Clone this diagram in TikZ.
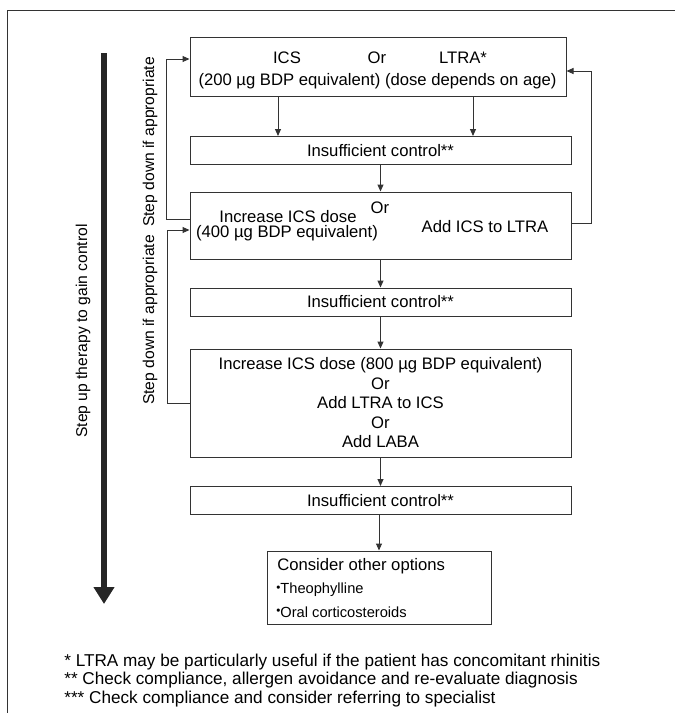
\documentclass[tikz,border=0pt]{standalone}
\usepackage{fontspec}
\setmainfont{Liberation Sans}
\usepackage{tikz}
\usetikzlibrary{arrows.meta}
\newcommand{\dotmark}{\raisebox{0.35ex}{\fontsize{7}{7}\selectfont\textbullet}}

\begin{document}
\begin{tikzpicture}[x=0.6pt, y=-0.6pt, font=\fontsize{10}{11.7}\selectfont,
  box/.style={draw=black!80, line width=0.6pt, inner sep=0pt, minimum width=228.6pt, minimum height=16.8pt},
  txt/.style={inner sep=0pt},
  side/.style={inner sep=0pt, rotate=90, font=\fontsize{9.4}{11}\selectfont},
  arr/.style={draw=black!80, line width=0.6pt, -{Triangle[length=4.2pt, width=3.6pt]}}]
  \useasboundingbox (0,0) rectangle (675,713);
  \draw[black!80, line width=0.6pt] (7,713) |- (675,10);
  % first step
  \node[box, minimum width=225.6pt, minimum height=35.4pt] (top) at (378,66.5) {};
  \node[txt] (ics) at (287,58) {ICS}; \node[txt] (or1) at (377,58) {Or}; \node[txt] (ltra) at (463,58) {LTRA*};
  \node[txt] (dose1) at (377.5,81) {(200 µg BDP equivalent) (dose depends on age)};
  \node[box] (ins1) at (380.5,150.5) {Insufficient control**};
  % second step
  \node[box, minimum height=40.2pt] (mid) at (380.5,225.5) {};
  \node[txt] (inc1) at (288,217) {Increase ICS dose}; \node[txt] (dose2) at (287,233) {(400 µg BDP equivalent)};
  \node[txt] (or2) at (380,208) {Or}; \node[txt] (addics) at (485,227) {Add ICS to LTRA};
  \node[box] (ins2) at (380.5,302) {Insufficient control**};
  % third step
  \node[box, minimum height=64.8pt, align=center] (big) at (380.5,403) {Increase ICS dose (800 µg BDP equivalent)\\Or\\Add LTRA to ICS\\Or\\Add LABA};
  \node[box] (ins3) at (380.5,500.5) {Insufficient control**};
  \node[box, minimum width=134.4pt, minimum height=43.8pt] (other) at (379,587.5) {};
  \node[txt, anchor=west] (cons) at (277,566) {Consider other options};
  \node[txt, anchor=west, font=\fontsize{8.8}{10}\selectfont] (theo) at (276,590) {\dotmark Theophylline};
  \node[txt, anchor=west, font=\fontsize{8.8}{10}\selectfont] (oral) at (276,612) {\dotmark Oral corticosteroids};
  % connectors
  \draw[arr] ([xshift=-60pt]top.south) -- ([xshift=-60pt]top.south |- ins1.north);
  \draw[arr] ([xshift=57pt]top.south) -- ([xshift=57pt]top.south |- ins1.north);
  \draw[arr] (ins1) -- (mid); \draw[arr] (mid) -- (ins2); \draw[arr] (ins2) -- (big); \draw[arr] (big) -- (ins3);
  \draw[arr] (ins3.south -| other.north) -- (other.north);
  \draw[arr] ([yshift=3.9pt]mid.west) -- ++(-23,0) |- ([yshift=4.5pt]top.west);
  \draw[arr] ([yshift=1.5pt]mid.east) -- ++(20,0) |- ([yshift=-2.7pt]top.east);
  \draw[arr] (big.west) -- ++(-22,0) |- ([yshift=-2.7pt]mid.west);
  % side labels
  \node[side] (down1) at (150,142) {Step down if appropriate};
  \node[side] (down2) at (150,320) {Step down if appropriate};
  \node[side] (gain) at (83,331) {Step up therapy to gain control};
  \coordinate (gainA) at (104,53); \coordinate (gainB) at (104,604);
  \draw[black!85, line width=3.6pt, -{Triangle[length=10.2pt, width=12pt]}] (gainA) -- (gainB);
  % footnotes
  \node[txt, anchor=west, font=\fontsize{10.3}{12}\selectfont] (note1) at (64,662) {* LTRA may be particularly useful if the patient has concomitant rhinitis};
  \node[txt, anchor=west, font=\fontsize{10.3}{12}\selectfont] (note2) at (64,680) {** Check compliance, allergen avoidance and re-evaluate diagnosis};
  \node[txt, anchor=west, font=\fontsize{10.3}{12}\selectfont] (note3) at (64,699) {*** Check compliance and consider referring to specialist};
\end{tikzpicture}
\end{document}
